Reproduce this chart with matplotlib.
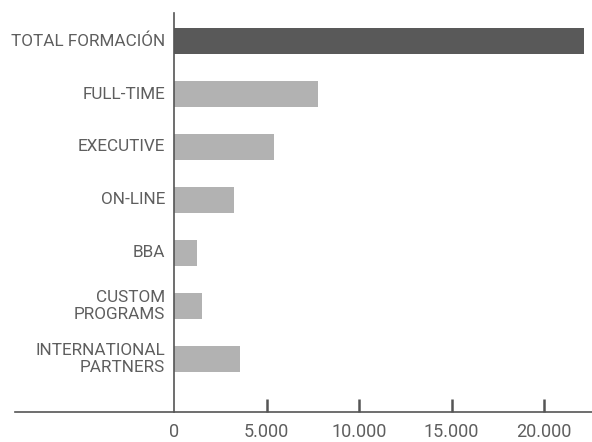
import matplotlib
matplotlib.use("Agg")
import matplotlib.pyplot as plt
import numpy as np

categories = ["TOTAL FORMACIÓN", "FULL-TIME", "EXECUTIVE", "ON-LINE", "BBA",
              "CUSTOM\nPROGRAMS", "INTERNATIONAL\nPARTNERS"]
values = [22150, 7780, 5400, 3240, 1230, 1510, 3570]
bar_colors = ["#595959"] + ["#b2b2b2"] * 6
xticks = [0, 5000, 10000, 15000, 20000]
xtick_labels = ["0", "5.000", "10.000", "15.000", "20.000"]

plt.rcParams['font.family'] = ['Roboto', 'DejaVu Sans']
text_color = "#5e5e5e"

fig = plt.figure(figsize=(5.92, 4.42), dpi=100)
ax = fig.add_axes([15/592, (442-411.7)/442, (592-15)/592, (411.7-13)/442])

y = np.arange(len(categories))
ax.barh(y, values, height=0.5, color=bar_colors, zorder=2)

px_per_unit = 0.0185
ax.set_xlim(-159/px_per_unit, (592-174)/px_per_unit)
ax.set_ylim(7.0, -0.53)

for s in ["top", "right"]:
    ax.spines[s].set_visible(False)
ax.spines["left"].set_position(("data", 0))
ax.spines["left"].set_color("#555555")
ax.spines["left"].set_linewidth(1.2)
ax.spines["bottom"].set_color("#555555")
ax.spines["bottom"].set_linewidth(1.2)

ax.set_xticks(xticks)
ax.set_xticklabels(xtick_labels)
ax.tick_params(axis="x", direction="in", length=9.5, width=1.8, color="#555555",
               labelsize=13, labelcolor=text_color, pad=8)
ax.xaxis.get_major_ticks()[0].tick1line.set_visible(False)

ax.set_yticks([])
for yi, cat in zip(y, categories):
    ax.annotate(cat, xy=(0, yi), xytext=(-9, 0), textcoords="offset pixels",
                ha="right", va="center", fontsize=12.3, color=text_color,
                linespacing=1.15)

fig.savefig("out.png", dpi=100)
